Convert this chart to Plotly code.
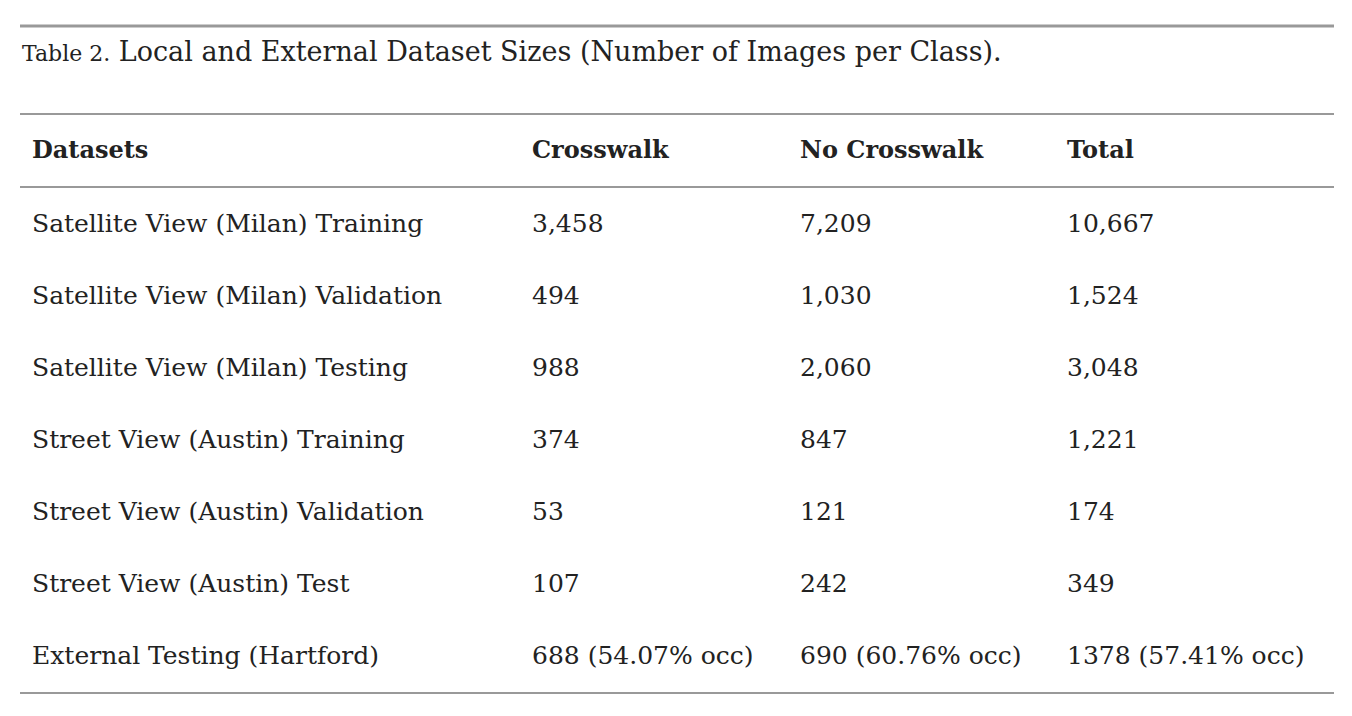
import plotly.graph_objects as go

headers = ["Datasets", "Crosswalk", "No Crosswalk", "Total"]
datasets = ["Satellite View (Milan) Training", "Satellite View (Milan) Validation",
            "Satellite View (Milan) Testing", "Street View (Austin) Training",
            "Street View (Austin) Validation", "Street View (Austin) Test",
            "External Testing (Hartford)"]
crosswalk = ["3,458", "494", "988", "374", "53", "107", "688 (54.07% occ)"]
no_crosswalk = ["7,209", "1,030", "2,060", "847", "121", "242", "690 (60.76% occ)"]
total = ["10,667", "1,524", "3,048", "1,221", "174", "349", "1378 (57.41% occ)"]

W, H = 1352, 716
OFF = 8
FONT = "DejaVu Serif"

def px(x):
    return (x - OFF) / W

def py(y):
    return 1 - (y - OFF) / H

fig = go.Figure(go.Table(
    domain=dict(x=[px(24), px(1334)], y=[0, py(114 + 13)]),
    columnwidth=[500, 268, 267, 275],
    header=dict(values=[f"<b>{h}</b>" for h in headers], height=78, align="left",
                fill_color="white", line_color="white",
                font=dict(family=FONT, size=24, color="#222")),
    cells=dict(values=[datasets, crosswalk, no_crosswalk, total], height=72, align="left",
               fill_color="white", line_color="white",
               font=dict(family=FONT, size=25, color="#222")),
))

def hline(ypx, w):
    fig.add_shape(type="line", xref="paper", yref="paper", x0=px(20), x1=px(1334),
                  y0=py(ypx), y1=py(ypx), line=dict(color="#999", width=w))

hline(26, 3)
hline(114, 2)
hline(187, 2)
hline(693, 2)

fig.add_annotation(xref="paper", yref="paper", x=px(20), y=py(52), xanchor="left", yanchor="middle",
                   showarrow=False,
                   text="<span style='font-size:22px'>Table 2.</span> Local and External Dataset Sizes (Number of Images per Class).",
                   font=dict(family=FONT, size=27, color="#222"))

fig.update_layout(width=W, height=H, margin=dict(l=0, r=0, t=0, b=0),
                  paper_bgcolor="white", plot_bgcolor="white")
fig.write_html("out.html")
